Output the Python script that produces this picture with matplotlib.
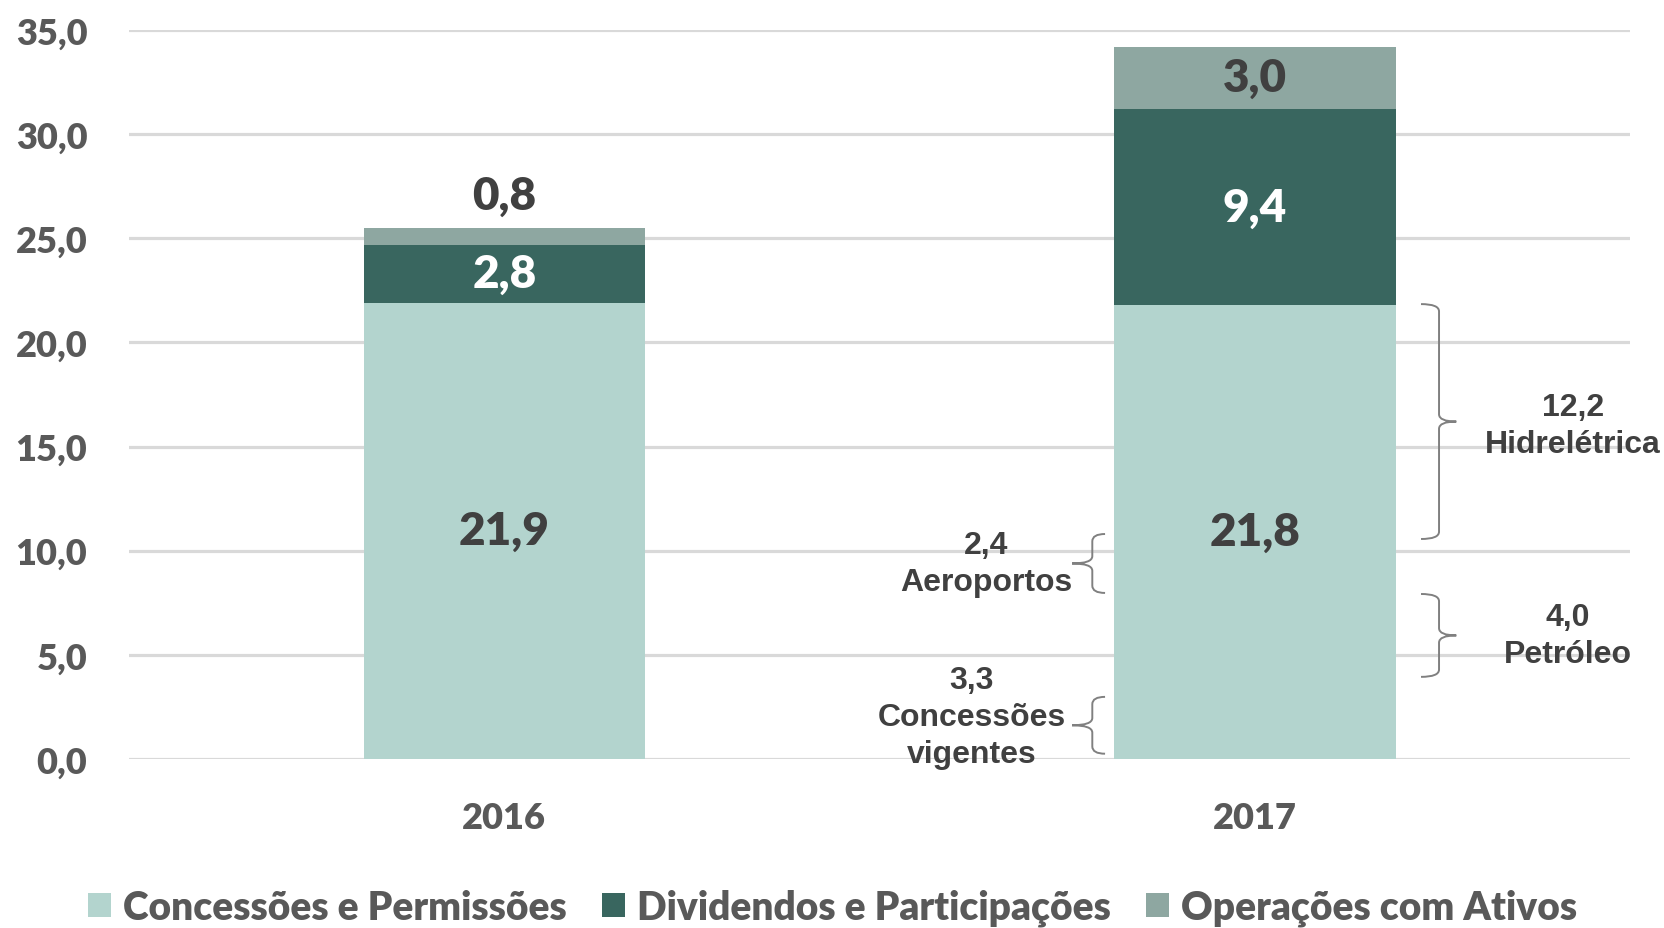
import matplotlib
matplotlib.use("Agg")
import matplotlib.pyplot as plt
from matplotlib.patches import Patch, PathPatch
from matplotlib.path import Path
import numpy as np

# ==============================
# Dados
# ==============================
anos = ["2016", "2017"]
concessoes = [21.9, 21.8]
dividendos = [2.8, 9.4]
operacoes = [0.8, 3.0]
series_nomes = ["Concessões e Permissões", "Dividendos e Participações", "Operações com Ativos"]
cores = ["#b3d4ce", "#39665f", "#8ea7a1"]

# detalhamento de 2017 (chaves): texto, faixa em y (início, fim), lado
detalhe_textos = ["3,3\nConcessões\nvigentes", "2,4\nAeroportos", "12,2\nHidrelétrica", "4,0\nPetróleo"]
detalhe_faixas = [(0.25, 2.98), (7.97, 10.8), (10.56, 21.84), (3.94, 7.92)]
detalhe_lado = ["esq", "esq", "dir", "dir"]
detalhe_dx = [-0.19, -0.17, 0.236, 0.23]
detalhe_dy = [0.4, 0.0, -0.2, 0.0]

def fmt(v):
    return f"{v:.1f}".replace(".", ",")

fig = plt.figure(figsize=(16.65, 9.29), dpi=100)
ax = fig.add_axes([0.0775, 0.182, 0.9015, 0.7846])

x = np.arange(len(anos))
largura = 0.375
base = np.zeros(len(anos))
pilhas = [concessoes, dividendos, operacoes]
for vals, cor in zip(pilhas, cores):
    ax.bar(x, vals, largura, bottom=base, color=cor, zorder=2)
    base = base + np.array(vals)

# rótulos dos valores
fonte_val = dict(family="Lato", fontweight="heavy", fontsize=33)
for i in range(len(anos)):
    ax.text(x[i], concessoes[i] / 2, fmt(concessoes[i]), ha="center", va="center",
            color="#404040", **fonte_val)
    ax.text(x[i], concessoes[i] + dividendos[i] / 2, fmt(dividendos[i]), ha="center",
            va="center", color="white", **fonte_val)
    topo = concessoes[i] + dividendos[i] + operacoes[i]
    if operacoes[i] < 1.5:
        ax.annotate(fmt(operacoes[i]), (x[i], topo), xytext=(0, 23), textcoords="offset points",
                    ha="center", va="center", color="#404040", **fonte_val)
    else:
        ax.text(x[i], topo - operacoes[i] / 2, fmt(operacoes[i]), ha="center", va="center",
                color="#404040", **fonte_val)

# chaves
def chave(ax, xv, x_ponta, y0, y1, braco):
    ym = (y0 + y1) / 2
    r = 0.35
    xa = xv + braco
    verts = [(xa, y1), (xv, y1), (xv, y1 - r),
             (xv, ym + r), (xv, ym), (x_ponta, ym),
             (xv, ym), (xv, ym - r),
             (xv, y0 + r), (xv, y0), (xa, y0)]
    codes = [Path.MOVETO, Path.CURVE3, Path.CURVE3,
             Path.LINETO, Path.CURVE3, Path.CURVE3,
             Path.CURVE3, Path.CURVE3,
             Path.LINETO, Path.CURVE3, Path.CURVE3]
    ax.add_patch(PathPatch(Path(verts, codes), fill=False, edgecolor="#808080", lw=1.4,
                           zorder=3, clip_on=False))

fonte_det = dict(family="Liberation Sans", fontweight="bold", fontsize=23, color="#404040",
                 linespacing=1.3)
borda_dir = x[1] + largura / 2
borda_esq = x[1] - largura / 2
for txt, (y0, y1), lado, dx, dy in zip(detalhe_textos, detalhe_faixas, detalhe_lado,
                                       detalhe_dx, detalhe_dy):
    ym = (y0 + y1) / 2
    if lado == "dir":
        xv = borda_dir + 0.058
        chave(ax, xv, xv + 0.023, y0, y1, -0.024)
        ax.text(borda_dir + dx, ym + dy, txt, ha="center", va="center", **fonte_det)
    else:
        xv = borda_esq - 0.029
        chave(ax, xv, xv - 0.027, y0, y1, 0.017)
        ax.text(borda_esq + dx, ym + dy, txt, ha="center", va="center", **fonte_det)

ax.set_xlim(-0.5, 1.5)
ax.set_ylim(0, 35)
ax.set_yticks(np.arange(0, 35.1, 5))
ax.set_yticklabels([fmt(v) for v in np.arange(0, 35.1, 5)])
ax.set_xticks(x)
ax.set_xticklabels(anos)
ax.yaxis.grid(True, color="#d9d9d9", lw=2.3, zorder=0)
ax.set_axisbelow(True)
for s in ax.spines.values():
    s.set_visible(False)
ax.tick_params(axis="both", length=0, labelcolor="#595959", labelsize=26)
ax.tick_params(axis="y", pad=30)
ax.tick_params(axis="x", pad=30)
for lbl in ax.get_xticklabels() + ax.get_yticklabels():
    lbl.set_family("Lato")
    lbl.set_fontweight("heavy")

handles = [Patch(facecolor=c, edgecolor="none") for c in cores]
fig.legend(handles, series_nomes, loc="center", bbox_to_anchor=(0.5, 0.022), ncol=3,
           frameon=False, prop=dict(family="Lato", weight="heavy", size=28),
           labelcolor="#595959", handlelength=0.6, handleheight=0.6, handletextpad=0.3,
           columnspacing=0.9)

fig.savefig("out.png", dpi=100)
